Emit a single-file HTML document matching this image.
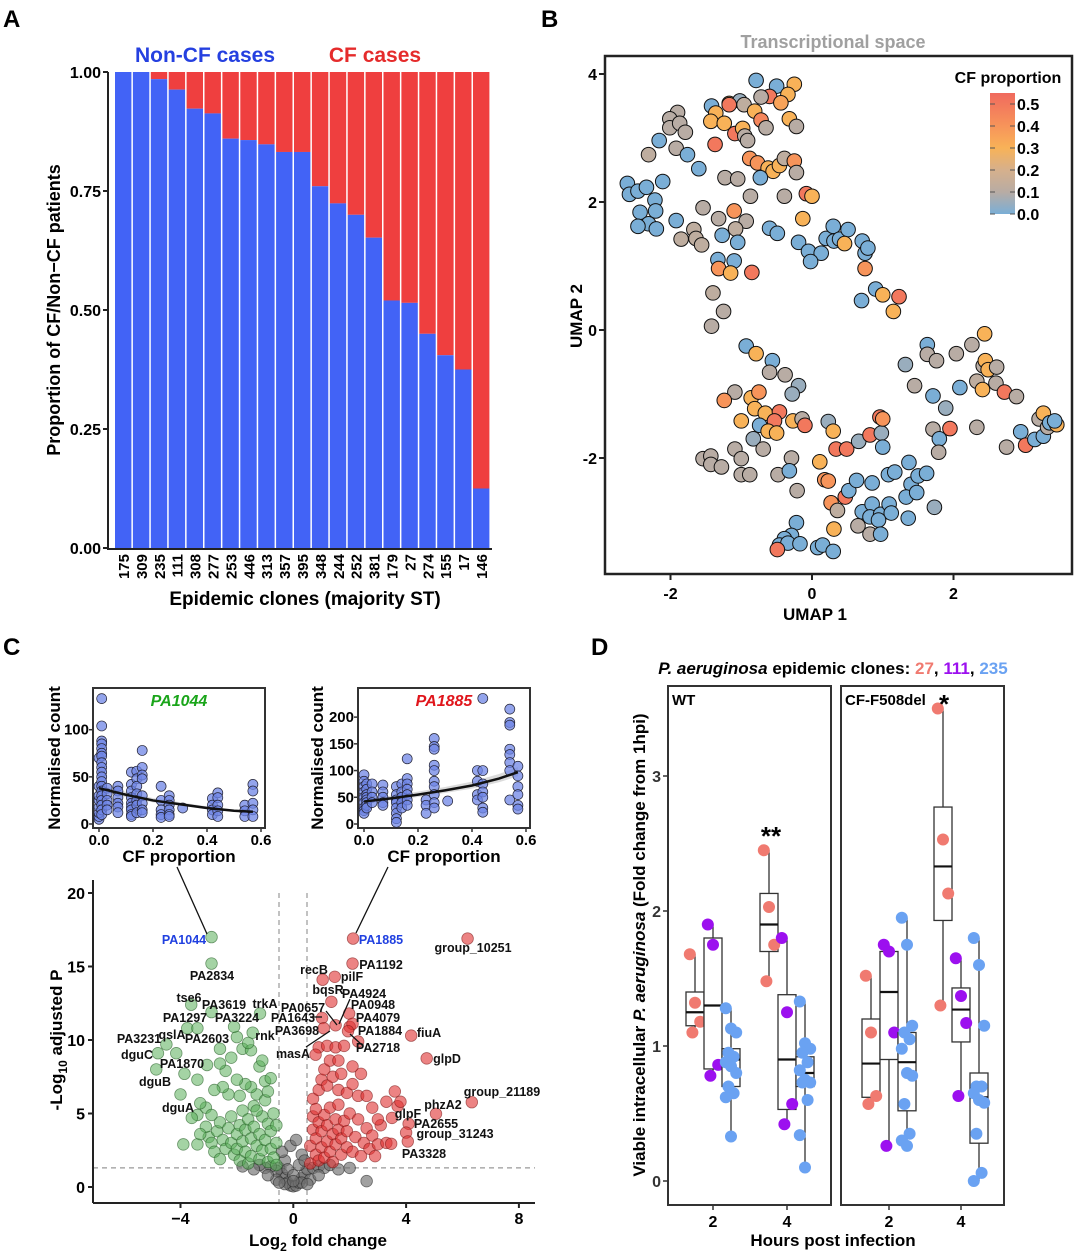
<!DOCTYPE html>
<html><head><meta charset="utf-8"><style>
html,body{margin:0;padding:0;background:#fff}
svg text{font-family:"Liberation Sans",Arial,sans-serif;font-weight:bold}
</style></head><body>
<svg id="fig" width="1080" height="1254" viewBox="0 0 1080 1254" xmlns="http://www.w3.org/2000/svg">
<g id="A"></g>
<g id="B"></g>
<g id="C"></g>
<g id="D"></g>
</svg>
<script>
// ---------- Panel A data ----------
const clones = ["175","309","235","111","308","277","253","446","313","357","395","348","244","252","381","179","27","274","155","17","146"];
const nonCFProp = [1,1,0.985,0.963,0.923,0.913,0.86,0.857,0.848,0.832,0.832,0.76,0.724,0.70,0.652,0.52,0.515,0.45,0.405,0.375,0.125];
const propTicks = ["0.00","0.25","0.50","0.75","1.00"];
// ---------- Panel B data ----------
const umap1 = [-0.79,-0.50,-0.25,-0.60,-0.72,-0.34,-0.44,-1.42,-1.17,-1.02,-0.96,-1.17,-1.36,-0.81,-1.90,-2.01,-1.43,-1.24,-0.72,-0.65,-0.32,-0.22,-2.01,-1.87,-1.79,-1.09,-0.98,-0.95,-0.91,-1.37,-2.16,-1.92,-2.31,-1.76,-1.60,-2.11,-2.61,-2.58,-2.46,-2.34,-2.22,-2.43,-2.21,-2.31,-2.46,-2.20,-0.88,-0.77,-0.62,-0.55,-0.46,-0.39,-0.25,-0.22,-0.73,-1.23,-1.05,-0.87,-0.39,-0.08,0.00,-1.54,-1.32,-1.10,-0.93,-1.92,-1.67,-1.85,-1.64,-1.56,-1.08,-1.27,-1.05,-0.60,-0.49,-0.13,-1.33,-1.10,-1.32,-1.15,-0.85,-0.19,-0.05,0.13,-0.02,0.20,0.30,0.31,0.39,0.51,0.46,0.71,0.75,0.79,0.75,0.90,1.00,0.70,1.23,1.15,-1.40,-1.25,-1.42,
-0.93,-0.79,-0.56,-0.60,-0.38,-0.19,-0.28,-1.09,-1.24,-0.86,-0.75,-0.81,-0.66,-0.46,-0.53,-1.00,-0.74,-0.62,-0.50,-0.27,-0.14,-0.10,0.23,0.30,-0.83,-0.69,-1.09,-1.00,-1.54,-1.43,-1.43,-1.28,-1.00,-0.88,-0.48,-0.29,-0.32,-0.21,0.11,0.18,0.23,0.34,0.49,0.66,0.82,0.98,1.00,0.96,1.00,0.27,0.36,0.47,0.52,0.63,0.85,1.08,1.17,1.37,1.40,1.50,1.62,1.33,1.48,1.73,0.71,0.85,0.82,0.97,1.09,1.12,0.94,1.36,0.65,0.82,0.97,0.31,-0.22,-0.29,-0.39,-0.46,-0.34,-0.17,-0.49,0.08,0.15,0.30,
2.44,1.63,1.63,1.76,2.04,2.26,1.32,1.45,2.09,1.71,1.89,2.42,2.45,2.49,2.61,2.33,2.41,2.60,2.72,2.89,2.33,1.95,1.71,1.80,1.79,2.75,2.95,3.02,3.15,3.27,3.21,3.27,3.33,3.36,3.46,3.43];
const umap2 = [3.90,3.81,3.84,3.65,3.64,3.68,3.55,3.50,3.54,3.58,3.52,3.52,3.39,3.42,3.40,3.30,3.26,3.23,3.28,3.16,3.30,3.18,3.16,3.23,3.09,3.07,3.15,3.03,2.96,2.90,2.96,2.84,2.74,2.74,2.52,2.32,2.29,2.12,2.17,2.23,2.03,1.84,1.86,1.66,1.62,1.58,2.68,2.61,2.53,2.48,2.57,2.68,2.64,2.46,2.38,2.38,2.36,2.09,2.09,2.13,2.09,1.91,1.74,1.86,1.70,1.71,1.57,1.42,1.43,1.33,1.58,1.48,1.37,1.59,1.51,1.74,1.10,1.08,0.96,0.89,0.90,1.37,1.23,1.20,1.07,1.43,1.62,1.39,1.42,1.57,1.35,1.39,1.20,1.28,0.96,0.64,0.55,0.46,0.52,0.29,0.58,0.29,0.06,
-0.25,-0.37,-0.48,-0.66,-0.70,-0.87,-1.00,-0.97,-1.10,-1.06,-0.97,-1.23,-1.30,-1.28,-1.42,-1.42,-1.49,-1.58,-1.61,-1.42,-1.39,-1.49,-1.43,-1.58,-1.70,-1.86,-1.86,-2.01,-2.01,-1.97,-2.10,-2.14,-2.26,-2.26,-2.26,-2.00,-2.20,-2.51,-2.06,-2.34,-2.36,-1.86,-1.86,-1.74,-1.64,-1.61,-1.83,-1.36,-1.39,-2.70,-2.82,-2.61,-2.51,-2.35,-2.39,-2.26,-2.22,-2.07,-2.41,-2.28,-2.24,-2.61,-2.54,-2.77,-2.84,-2.72,-2.92,-2.88,-2.72,-2.86,-2.97,-2.94,-3.06,-3.19,-3.19,-3.11,-3.01,-3.21,-3.26,-3.36,-3.33,-3.34,-3.43,-3.40,-3.36,-3.46,
-0.06,-0.23,-0.38,-0.48,-0.37,-0.23,-0.54,-0.87,-0.90,-1.03,-1.22,-0.56,-0.48,-0.62,-0.58,-0.80,-0.93,-0.83,-0.97,-1.04,-1.52,-1.54,-1.55,-1.70,-1.91,-1.83,-1.59,-1.80,-1.71,-1.66,-1.39,-1.30,-1.52,-1.45,-1.48,-1.42];
const cfProp = [0,0,0.3,0.5,0.1,0.3,0.35,0,0.3,0.05,0.12,0.5,0.3,0.3,0.1,0.1,0.3,0.3,0.45,0.1,0.3,0.1,0.1,0.1,0.1,0.5,0.3,0.1,0.1,0.5,0,0.1,0.12,0,0,0,0,0,0,0,0,0,0,0,0,0,0.4,0.4,0.3,0.3,0.3,0.12,0.4,0.1,0,0.1,0.1,0.1,0.1,0.5,0.3,0.1,0.1,0.4,0.1,0,0.12,0.12,0.12,0.12,0.12,0,0,0,0,0.3,0,0,0.4,0.3,0.5,0,0,0,0,0,0,0,0,0,0.3,0,0,0,0.4,0,0.3,0,0.5,0.3,0.12,0.1,0.1,
0,0.3,0,0.1,0.1,0.05,0.05,0.1,0.4,0.3,0.4,0.3,0.3,0.5,0.5,0.3,0,0.3,0.3,0.3,0.1,0.5,0.05,0.3,0.05,0.1,0.1,0.1,0.1,0.1,0.1,0.1,0.1,0.1,0.1,0.1,0,0.1,0.3,0.4,0.4,0.5,0.5,0.05,0.5,0.05,0,0.5,0.4,0.4,0.12,0.5,0,0,0,0,0,0,0,0,0,0,0,0.05,0,0,0,0,0,0,0,0,0.1,0.1,0,0.3,0,0,0,0,0,0,0.5,0,0,0,
0.3,0,0.1,0.1,0.1,0.1,0.05,0.1,0,0,0.05,0.1,0.3,0.3,0.1,0.12,0.3,0.1,0.5,0.1,0.1,0.5,0.1,0,0.1,0.1,0,0.5,0,0,0.1,0.3,0.1,0,0.3,0];
const umapXTicks = [-2,0,2];
const umapYTicks = [-2,0,2,4];
const cbTicks = [0.0,0.1,0.2,0.3,0.4,0.5];
// ---------- Panel C data ----------
const pa1044X = [0,0,0,0,0,0,0,0, 0.01,0.01,0.01,0.01,0.01,0.01,0.01,0.01,0.01,0.01,0.01,0.01,0.01,0.01,0.01,0.01,0.01,0.01,0.01, 0.03,0.03,0.03,0.03,0.03, 0.07,0.07,0.07,0.07,0.07,0.07, 0.12,0.12,0.12,0.12,0.12,0.12,0.12,0.12,0.12, 0.14,0.14,0.14,0.14,0.14,0.14,0.14, 0.16,0.16,0.16,0.16,0.16,0.16,0.16,0.16, 0.23,0.23,0.23,0.23,0.23, 0.26,0.26,0.26,0.26,0.26,0.26, 0.31, 0.42,0.42,0.42,0.42, 0.44,0.44,0.44,0.44,0.44, 0.54,0.54,0.54, 0.57,0.57,0.57,0.57,0.57];
const pa1044Y = [5,8,12,18,25,30,40,70, 133,104,88,85,80,75,72,65,60,55,50,45,40,35,30,25,20,15,10, 38,32,25,20,15, 40,35,28,22,18,12, 55,42,35,28,22,18,15,10,8, 56,48,40,32,25,20,12, 78,60,52,48,30,22,15,12, 40,25,15,10,7, 30,25,20,15,10,8, 17, 27,20,15,10, 33,28,20,14,8, 20,14,8, 42,35,22,15,8];
const pa1044FitX = [0,0.1,0.2,0.3,0.4,0.5,0.57];
const pa1044FitY = [38,31,25,21,17,14,13];
const pa1885X = [0,0,0,0,0,0,0,0,0, 0.01,0.01,0.01,0.01,0.01,0.01,0.01,0.01, 0.03,0.03,0.03,0.03, 0.07,0.07,0.07,0.07,0.07, 0.12,0.12,0.12,0.12,0.12,0.12,0.12,0.12, 0.14,0.14,0.14,0.14,0.14, 0.16,0.16,0.16,0.16,0.16,0.16,0.16, 0.23,0.23,0.23, 0.26,0.26,0.26,0.26,0.26,0.26,0.26,0.26,0.26,0.26, 0.31, 0.42,0.42,0.42,0.42, 0.44,0.44,0.44,0.44,0.44,0.44,0.44, 0.54,0.54,0.54,0.54,0.54,0.54,0.54,0.54, 0.57,0.57,0.57,0.57,0.57,0.57];
const pa1885Y = [92,80,70,60,50,40,30,25,20, 75,65,55,50,45,40,35,30, 75,60,50,40, 73,60,50,40,35, 70,55,45,40,30,20,10,3, 75,60,50,40,30, 122,85,75,65,55,45,35, 45,35,20, 160,145,140,110,100,80,70,55,40,30, 43, 100,80,55,45, 235,100,75,60,50,30,22, 215,190,185,140,130,115,100,45, 108,90,70,55,35,28];
const pa1885FitX = [0,0.1,0.2,0.3,0.4,0.5,0.57];
const pa1885FitY = [42,48,55,63,72,85,97];
const greenLFC = [-3.4,-3.0,-2.9,-2.7,-2.6,-2.5,-2.4,-2.3,-2.2,-2.2,-2.1,-2.0,-2.0,-1.9,-1.9,-1.8,-1.8,-1.7,-1.7,-1.6,-1.6,-1.5,-1.5,-1.4,-1.4,-1.3,-1.3,-1.2,-1.2,-1.1,-1.1,-1.0,-1.0,-0.9,-0.9,-0.8,-0.8,-0.7,-0.7,-0.6,-0.6,-0.6,-2.8,-2.6,-3.1,-3.3,-1.0,-0.8,-1.2,-1.5,-1.7,-1.9,-2.3,-2.5,-2.0,-2.4,-2.8,-3.1,-3.4,-2.2,-1.8,-1.5,-2.0,-1.6,-2.6,-3.9,-3.6,-2.9,-1.3,-0.9,-1.1,-3.4,
 -2.9,-2.9,-3.62,-2.9,-1.18,-3.76,-3.4,-2.1,-2.6,-1.44,-4.8,-4.5,-4.15,-3.06,-4.86,-3.86,-4.0,-3.3];
const greenP = [2.9,3.4,3.0,3.8,4.4,3.2,2.6,4.0,4.8,3.0,2.2,3.6,2.6,4.2,1.8,3.1,5.2,2.4,3.9,4.6,1.6,3.3,2.1,5.5,4.1,2.8,6.3,3.6,1.9,4.8,2.5,5.9,3.2,4.3,1.7,2.6,3.8,5.0,2.0,3.0,1.5,4.2,2.4,1.9,4.1,3.6,7.2,7.4,8.2,6.8,7.0,6.2,6.3,6.8,7.3,7.9,6.6,5.4,4.9,8.8,9.4,9.3,10.2,9.8,8.4,2.9,4.7,4.9,5.2,6.5,8.6,7.3,
 17.0,15.2,12.4,11.9,11.8,10.8,10.8,10.9,9.4,10.5,9.1,9.7,9.1,8.3,8.0,7.7,6.3,5.7];
const redLFC = [0.6,0.6,0.7,0.7,0.8,0.8,0.9,0.9,1.0,1.0,1.1,1.1,1.2,1.2,1.3,1.3,1.4,1.4,1.5,1.5,1.6,1.6,1.7,1.7,1.8,1.9,1.9,2.0,2.1,2.2,2.3,2.4,2.5,2.6,2.7,2.8,2.9,3.0,3.1,0.7,0.9,1.0,1.2,1.4,1.6,1.7,1.9,2.1,2.3,1.1,1.3,1.6,0.9,1.2,1.5,1.8,2.1,2.4,2.6,2.8,3.0,3.3,3.6,3.7,3.5,3.8,3.3,2.3,0.8,2.0,
 2.12,6.18,2.1,1.04,1.47,1.35,1.98,1.02,2.1,1.08,1.94,1.5,0.79,4.18,4.73,6.33,5.06,4.09,4.0,4.06,3.47];
const redP = [1.6,2.8,3.9,4.8,2.2,3.3,4.4,1.8,2.7,3.8,4.9,2.0,3.1,4.2,5.4,2.4,3.6,1.7,4.6,2.9,3.9,5.6,2.2,3.3,4.5,2.7,3.8,5.0,2.4,3.4,4.6,2.1,3.0,4.0,2.6,3.5,2.1,2.9,4.2,6.0,6.6,7.3,6.9,7.5,6.6,7.7,6.4,7.0,6.2,8.0,8.6,8.6,9.5,9.6,9.5,9.6,8.2,7.7,6.2,5.4,4.6,5.8,6.5,5.5,4.7,5.8,3.0,9.9,5.3,10.9,
 16.9,16.9,15.2,14.1,14.3,12.6,11.8,11.5,11.1,10.8,10.6,11.0,9.0,10.3,8.75,5.77,4.98,4.3,3.7,3.1,2.94];
const greyLFC = [-0.5,-0.4,-0.3,-0.2,-0.1,0,0.1,0.2,0.3,0.4,0.5,-0.6,-0.8,-1.0,-1.2,0.7,0.9,1.1,1.3,-0.3,-0.2,0,0.2,0.3,0.4,-0.4,-0.1,0.1,-0.6,-0.9,0.6,0.9,-0.3,0.3,-1.4,1.6,2.0,-1.8,0,2.6,-0.5,0.5];
const greyP = [1.3,0.9,0.6,0.3,0.1,0.05,0.1,0.3,0.6,0.9,1.2,1.1,1.4,1.3,1.5,1.3,1.4,1.3,1.5,1.8,1.2,0.8,1.5,2.2,1.8,2.4,2.8,3.2,0.5,0.8,0.5,0.8,0.2,0.3,1.2,1.2,1.3,1.4,0.4,0.4,0.3,0.2];
const lfcTicks = [-4,0,4,8];
const pTicks = [0,5,10,15,20];
// ---------- Panel D data ----------
const dPanels = ["WT","CF-F508del"];
const dHours = [2,4];
const dClones = ["27","111","235"];
const dStats = [ // [panel][hour][clone] = [lowWhisker,q1,median,q3,highWhisker]
 [[[1.08,1.15,1.25,1.4,1.68],[0.77,0.83,1.3,1.8,1.9],[0.33,0.7,0.9,0.98,1.28]],
  [[1.48,1.7,1.9,2.13,2.45],[0.42,0.53,0.9,1.38,1.8],[0.1,0.7,0.8,0.92,1.33]]],
 [[[0.57,0.62,0.87,1.2,1.52],[0.26,0.9,1.4,1.7,1.75],[0.25,0.52,0.88,1.1,1.95]],
  [[1.3,1.93,2.33,2.77,3.5],[0.63,1.03,1.27,1.43,1.65],[0,0.28,0.62,0.8,1.8]]]];
const dPoints = [
 [[[1.68,1.32,1.18,1.10],[1.9,1.75,0.86,0.78],[1.28,1.13,1.1,0.95,0.92,0.88,0.85,0.8,0.7,0.65,0.62,0.33]],
  [[2.45,2.03,1.75,1.48],[1.8,1.25,0.57,0.42],[1.33,1.02,0.98,0.95,0.88,0.82,0.75,0.73,0.73,0.6,0.34,0.1]]],
 [[[1.52,1.1,0.63,0.57],[1.75,1.7,1.1,0.26],[1.95,1.75,1.15,1.1,1.05,0.98,0.8,0.78,0.57,0.35,0.3,0.26]],
  [[3.5,2.53,2.13,1.3],[1.65,1.37,1.17,0.63],[1.8,1.6,1.15,0.7,0.7,0.65,0.6,0.58,0.35,0.06,0.0]]]];
const dYTicks = [0,1,2,3];

const NS="http://www.w3.org/2000/svg";
function mk(parent,tag,attrs,txt){const e=document.createElementNS(NS,tag);for(const k in attrs)e.setAttribute(k,attrs[k]);if(txt!==undefined)e.textContent=txt;parent.appendChild(e);return e;}

// ================= PANEL A =================
(function(){
 const g=document.getElementById('A');
 const x0=115,bw=17.9,y=v=>548-v*476;
 let t=mk(g,'text',{x:3,y:27,'font-size':24});t.textContent='A';
 
 clones.forEach((c,i)=>{
  const bx=x0+i*bw;
  let r=mk(g,'rect',{x:bx,y:y(1),width:bw-1.5,height:y(nonCFProp[i])-y(1),fill:'#ef3f3f'});
  
  let b=mk(g,'rect',{x:bx,y:y(nonCFProp[i]),width:bw-1.5,height:548-y(nonCFProp[i]),fill:'#4263f6'});
  
  let tl=mk(g,'text',{x:0,y:0,'font-size':15,'text-anchor':'end',transform:`translate(${bx+bw/2+5},554) rotate(-90)`},c);
  
 });
 mk(g,'line',{x1:108,y1:72,x2:108,y2:549,stroke:'#222','stroke-width':2});
 mk(g,'line',{x1:107,y1:549,x2:492,y2:549,stroke:'#222','stroke-width':2});
 propTicks.forEach(s=>{const v=+s;mk(g,'line',{x1:103,x2:108,y1:y(v),y2:y(v),stroke:'#222','stroke-width':2});
  let tl=mk(g,'text',{x:101,y:y(v)+6,'font-size':16,'text-anchor':'end'},s);
  });
 let yl=mk(g,'text',{x:0,y:0,'font-size':18,'text-anchor':'middle',transform:'translate(60,310) rotate(-90)'},'Proportion of CF/Non−CF patients');
 
 let xl=mk(g,'text',{x:305,y:605,'font-size':19,'text-anchor':'middle'},'Epidemic clones (majority ST)');
 
 let l1=mk(g,'text',{x:205,y:62,'font-size':21,'text-anchor':'middle',fill:'#2540e0'},'Non-CF cases');
 
 let l2=mk(g,'text',{x:375,y:62,'font-size':21,'text-anchor':'middle',fill:'#e52b2b'},'CF cases');
 
})();

// ================= PANEL B =================
(function(){
 const g=document.getElementById('B');
 const X=u=>812+u*70.75, Y=u=>330-u*64;
 const stops=[[0,[122,174,214]],[0.1,[184,172,164]],[0.2,[214,176,140]],[0.3,[248,178,88]],[0.4,[247,148,90]],[0.55,[240,106,94]]];
 function col(v){for(let i=1;i<stops.length;i++){if(v<=stops[i][0]){const a=stops[i-1],b=stops[i],f=(v-a[0])/(b[0]-a[0]);return 'rgb('+a[1].map((c,k)=>Math.round(c+(b[1][k]-c)*f)).join(',')+')';}}return 'rgb(240,106,94)';}
 let t=mk(g,'text',{x:541,y:27,'font-size':24},'B');
 
 let tt=mk(g,'text',{x:833,y:48,'font-size':18,'text-anchor':'middle',fill:'#a0a0a0'},'Transcriptional space');
 
 umap1.forEach((u,i)=>{let c=mk(g,'circle',{cx:X(u),cy:Y(umap2[i]),r:7.3,fill:col(cfProp[i]),stroke:'#111','stroke-width':1});
  });
 mk(g,'rect',{x:605,y:56,width:467,height:518,fill:'none',stroke:'#222','stroke-width':2.5});
 umapXTicks.forEach(v=>{mk(g,'line',{x1:X(v),x2:X(v),y1:574,y2:580,stroke:'#222','stroke-width':2});
  let l=mk(g,'text',{x:X(v),y:599,'font-size':16,'text-anchor':'middle'},String(v));
  });
 umapYTicks.forEach(v=>{mk(g,'line',{x1:599,x2:605,y1:Y(v),y2:Y(v),stroke:'#222','stroke-width':2});
  let l=mk(g,'text',{x:597,y:Y(v)+6,'font-size':16,'text-anchor':'end'},String(v));
  });
 let xl=mk(g,'text',{x:815,y:620,'font-size':17,'text-anchor':'middle'},'UMAP 1');
 
 let yl=mk(g,'text',{x:0,y:0,'font-size':17,'text-anchor':'middle',transform:'translate(582,316) rotate(-90)'},'UMAP 2');
 
 const defs=mk(g,'defs',{});const lg=mk(defs,'linearGradient',{id:'cb',x1:0,y1:1,x2:0,y2:0});
 stops.forEach(s=>mk(lg,'stop',{offset:s[0]/0.55,'stop-color':'rgb('+s[1].join(',')+')'}));
 const cbY=v=>214-v*220;
 let cb=mk(g,'rect',{x:990,y:cbY(0.55),width:25,height:cbY(0)-cbY(0.55),fill:'url(#cb)'});
 
 let lt=mk(g,'text',{x:1008,y:83,'font-size':16,'text-anchor':'middle'},'CF proportion');
 
 cbTicks.forEach(v=>{mk(g,'line',{x1:990,x2:995,y1:cbY(v),y2:cbY(v),stroke:'#555'});mk(g,'line',{x1:1010,x2:1015,y1:cbY(v),y2:cbY(v),stroke:'#555'});
  let l=mk(g,'text',{x:1017,y:cbY(v)+6,'font-size':16},v.toFixed(1));
  });
})();

// ================= PANEL C =================
(function(){
 const g=document.getElementById('C');
 let t=mk(g,'text',{x:3,y:655,'font-size':24},'C');
 
 function inset(name,bx,xs,ys,fx,fy,yMax,ticks,title,tcol,ylx){
  const L=bx,R=bx+172,T=688,B=828;
  const X=v=>L+6+v*270, Y=v=>B-4-v*(B-4-T-4)/yMax;
  mk(g,'rect',{x:L,y:T,width:R-L,height:B-T,fill:'#fff',stroke:'#333','stroke-width':2});
  const pts=fy.map((v,i)=>[X(fx[i]),Y(v)]);
  const up=fy.map((v,i)=>[X(fx[i]),Y(v*1.1)]),dn=fy.map((v,i)=>[X(fx[i]),Y(v*0.92)]).reverse();
  mk(g,'polygon',{points:up.concat(dn).map(p=>p.join(',')).join(' '),fill:'#999','fill-opacity':0.35});
  xs.forEach((v,i)=>{let c=mk(g,'circle',{cx:X(v),cy:Y(ys[i]),r:5,fill:'#6f86e6','fill-opacity':0.75,stroke:'#223','stroke-width':0.7});
   });
  let fl=mk(g,'polyline',{points:pts.map(p=>p.join(',')).join(' '),fill:'none',stroke:'#111','stroke-width':2.5});
  
  [0,0.2,0.4,0.6].forEach(v=>{mk(g,'line',{x1:X(v),x2:X(v),y1:B,y2:B+4,stroke:'#333','stroke-width':1.5});
   let l=mk(g,'text',{x:X(v),y:B+17,'font-size':15,'text-anchor':'middle'},v.toFixed(1));
   });
  ticks.forEach(v=>{mk(g,'line',{x1:L-4,x2:L,y1:Y(v),y2:Y(v),stroke:'#333','stroke-width':1.5});
   let l=mk(g,'text',{x:L-4,y:Y(v)+5,'font-size':15,'text-anchor':'end'},String(v));
   });
  let tl=mk(g,'text',{x:(L+R)/2,y:T+18,'font-size':16,'text-anchor':'middle','font-style':'italic',fill:tcol},title);
  
  let xl=mk(g,'text',{x:(L+R)/2,y:862,'font-size':17,'text-anchor':'middle'},'CF proportion');
  
  let yl=mk(g,'text',{x:0,y:0,'font-size':17,'text-anchor':'middle',transform:`translate(${ylx},758) rotate(-90)`},'Normalised count');
  
 }
 inset('pa1044',93,pa1044X,pa1044Y,pa1044FitX,pa1044FitY,140,[0,50,100],'PA1044','#1aa51a',60);
 inset('pa1885',358,pa1885X,pa1885Y,pa1885FitX,pa1885FitY,247,[0,50,100,150,200],'PA1885','#e0151b',323);
 // volcano
 const X=v=>293.3+v*28.2, Y=v=>1187-v*14.7;
 mk(g,'line',{x1:279,x2:279,y1:893,y2:1203,stroke:'#999','stroke-dasharray':'5,4','stroke-width':1.2});
 mk(g,'line',{x1:307,x2:307,y1:893,y2:1203,stroke:'#999','stroke-dasharray':'5,4','stroke-width':1.2});
 mk(g,'line',{x1:93,x2:535,y1:Y(1.3),y2:Y(1.3),stroke:'#999','stroke-dasharray':'5,4','stroke-width':1.2});
 function pts(xs,ys,fill,stroke,op,name){xs.forEach((v,i)=>{let c=mk(g,'circle',{cx:X(v),cy:Y(ys[i]),r:5.8,fill:fill,'fill-opacity':op,stroke:stroke,'stroke-opacity':0.6,'stroke-width':0.8});
  });}
 pts(greyLFC,greyP,'#6e6e6e','#222',0.65,'volcano-point-ns');
 pts(greenLFC,greenP,'#5aae5a','#235c23',0.55,'volcano-point-down');
 pts(redLFC,redP,'#df3030','#7a1515',0.6,'volcano-point-up');
 mk(g,'line',{x1:93,x2:93,y1:880,y2:1203,stroke:'#222','stroke-width':2});
 mk(g,'line',{x1:93,x2:535,y1:1203,y2:1203,stroke:'#222','stroke-width':2});
 lfcTicks.forEach(v=>{mk(g,'line',{x1:X(v),x2:X(v),y1:1203,y2:1208,stroke:'#222','stroke-width':2});
  let l=mk(g,'text',{x:X(v),y:1224,'font-size':16,'text-anchor':'middle'},v<0?'−'+(-v):String(v));
  });
 pTicks.forEach(v=>{mk(g,'line',{x1:88,x2:93,y1:Y(v),y2:Y(v),stroke:'#222','stroke-width':2});
  let l=mk(g,'text',{x:85,y:Y(v)+6,'font-size':16,'text-anchor':'end'},String(v));
  });
 let yl=mk(g,'text',{x:0,y:0,'font-size':17,'text-anchor':'middle',transform:'translate(62,1040) rotate(-90)'});
 yl.innerHTML='-Log<tspan font-size="12" dy="5">10</tspan><tspan dy="-5"> adjusted P</tspan>';
 
 let xl=mk(g,'text',{x:318,y:1246,'font-size':17,'text-anchor':'middle'});
 xl.innerHTML='Log<tspan font-size="12" dy="5">2</tspan><tspan dy="-5"> fold change</tspan>';
 
 const labels=[['PA1044',184,939,'#2040e0'],['PA2834',212,975],['tse6',189,997],['PA3619',224,1004],['trkA',265,1003],['PA1297',185,1017],['qslA',172,1034],['PA3224',237,1017],['PA3231',139,1038],['PA2603',207,1038],['rnk',265,1035],['dguC',137,1054],['PA1870',182,1063],['dguB',155,1081],['dguA',178,1107],
 ['PA1885',381,939,'#2040e0'],['group_10251',473,947],['PA1192',381,964],['recB',314,969],['pilF',352,976],['bqsR',328,989],['PA4924',364,993],['PA0657',303,1007],['PA0948',373,1004],['PA1643',293,1017],['PA4079',378,1017],['PA3698',297,1030],['PA1884',380,1030],['PA2718',378,1047],['masA',293,1053],['fiuA',429,1032],['glpD',447,1058],['group_21189',502,1091],['phzA2',443,1104],['glpF',408,1113],['PA2655',436,1123],['group_31243',455,1133],['PA3328',424,1153]];
 labels.forEach(a=>{let l=mk(g,'text',{x:a[1],y:a[2]+5,'font-size':12.5,'text-anchor':'middle',fill:a[3]||'#111'},a[0]);
  });
 const leaders=[[207,934,177,867],[356,933,388,867],[326,1011,337,1025],[350,999,339,1024],[310,1017,322,1017],[306,1047,330,1031],[350,1034,362,1045]];
 leaders.forEach(a=>{let l=mk(g,'line',{x1:a[0],y1:a[1],x2:a[2],y2:a[3],stroke:'#111','stroke-width':1.3});
  });
})();

// ================= PANEL D =================
(function(){
 const g=document.getElementById('D');
 const cols=['#f07a70','#9c10ef','#6aa2f2'];
 const Y=v=>1181-v*135;
 const boxL=[668,841],W=163,TOP=686,BOT=1205;
 const hx=[[713,787],[889,961]];
 let t=mk(g,'text',{x:591,y:655,'font-size':24},'D');
 
 let tt=mk(g,'text',{x:833,y:674,'font-size':17,'text-anchor':'middle'});
 tt.innerHTML='<tspan font-style="italic">P. aeruginosa</tspan> epidemic clones: <tspan fill="#f07a70">27</tspan>, <tspan fill="#9c10ef">111</tspan>, <tspan fill="#6aa2f2">235</tspan>';
 
 dPanels.forEach((p,pi)=>{
  let fr=mk(g,'rect',{x:boxL[pi],y:TOP,width:W,height:BOT-TOP,fill:'none',stroke:'#333','stroke-width':2});
  
  let fl=mk(g,'text',{x:boxL[pi]+4,y:705,'font-size':15},p);
  
  dHours.forEach((h,hi)=>{
   const cx=hx[pi][hi];
   mk(g,'line',{x1:cx,x2:cx,y1:BOT,y2:BOT+5,stroke:'#333','stroke-width':1.5});
   let tl=mk(g,'text',{x:cx,y:1227,'font-size':16,'text-anchor':'middle'},String(h));
   
   dClones.forEach((c,ci)=>{
    const bx=cx+(ci-1)*18, s=dStats[pi][hi][ci];
    mk(g,'line',{x1:bx,x2:bx,y1:Y(s[0]),y2:Y(s[4]),stroke:'#333','stroke-width':1.3});
    let bb=mk(g,'rect',{x:bx-9,y:Y(s[3]),width:18,height:Y(s[1])-Y(s[3]),fill:'#fff',stroke:'#333','stroke-width':1.3});
    
    mk(g,'line',{x1:bx-9,x2:bx+9,y1:Y(s[2]),y2:Y(s[2]),stroke:'#111','stroke-width':2.2});
    dPoints[pi][hi][ci].forEach((v,k)=>{const j=((k*7)%5-2)*2.6;
     let d=mk(g,'circle',{cx:bx+j,cy:Y(v),r:6,fill:cols[ci]});
     });
   });
  });
 });
 dYTicks.forEach(v=>{mk(g,'line',{x1:663,x2:668,y1:Y(v),y2:Y(v),stroke:'#333','stroke-width':1.5});
  let l=mk(g,'text',{x:661,y:Y(v)+6,'font-size':16,'text-anchor':'end',fill:'#333'},String(v));
  });
 let s1=mk(g,'text',{x:771,y:845,'font-size':26,'text-anchor':'middle'},'**');
 
 let s2=mk(g,'text',{x:944,y:713,'font-size':26,'text-anchor':'middle'},'*');
 
 let yl=mk(g,'text',{x:0,y:0,'font-size':17,'text-anchor':'middle',transform:'translate(645,945) rotate(-90)'});
 yl.innerHTML='Viable intracellular <tspan font-style="italic">P. aeruginosa</tspan> (Fold change from 1hpi)';
 
 let xl=mk(g,'text',{x:833,y:1246,'font-size':17,'text-anchor':'middle'},'Hours post infection');
 
})();
</script>
</body></html>
